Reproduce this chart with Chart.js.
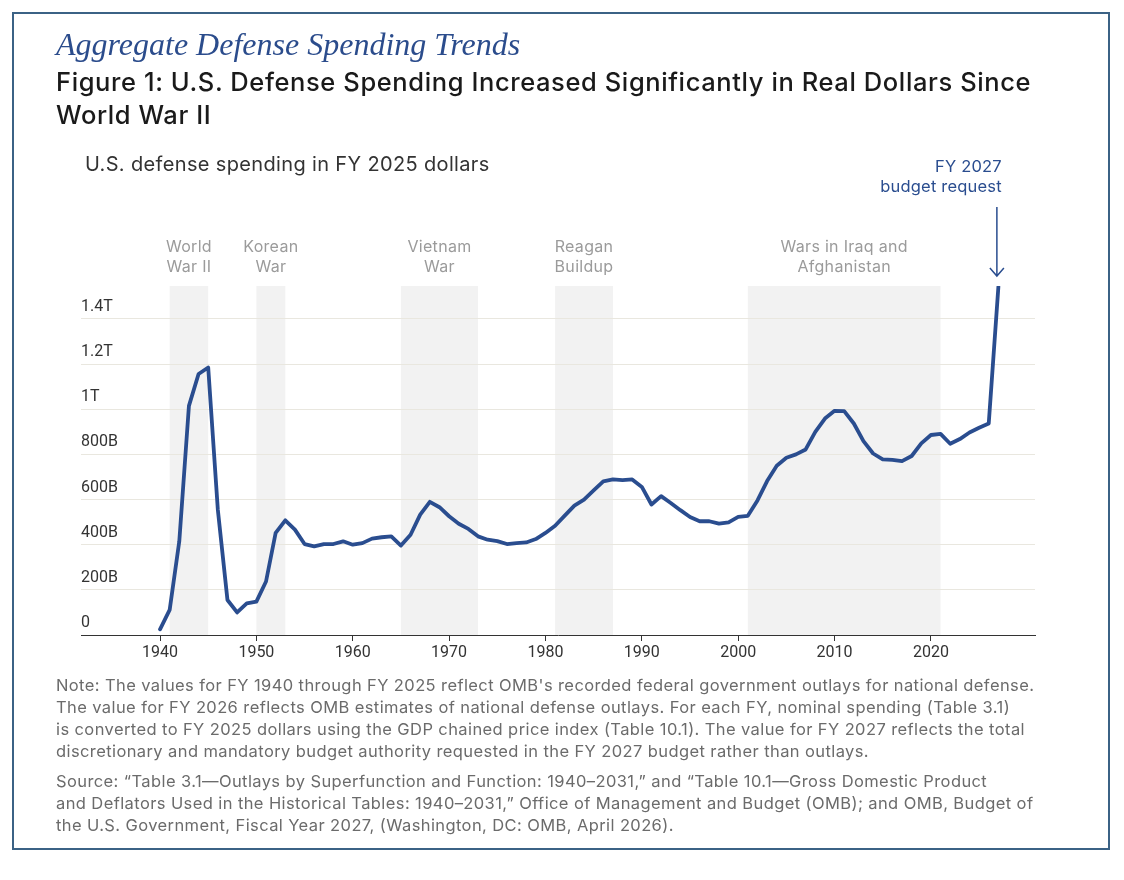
<!DOCTYPE html>
<html>
<head>
<meta charset="utf-8">
<script src="https://cdn.jsdelivr.net/npm/chart.js@4.4.1/dist/chart.umd.min.js"></script>
<style>
  html, body { margin:0; padding:0; background:#fff; }
  body { width:1124px; height:880px; position:relative; overflow:hidden; }
  .frame { position:absolute; left:12px; top:12px; width:1098px; height:838px; border:2px solid #3b6285; box-sizing:border-box; }
  .t { position:absolute; white-space:nowrap; margin:0; }
  #kicker { left:56px; top:29px; font:italic 32px/30px "Liberation Serif", serif; color:#2b4c8c; }
  #title { left:56px; top:65px; font:500 25.5px/33px Inter, sans-serif; letter-spacing:0.6px; color:#1a1a1a; }
  #subtitle { left:85px; top:153.5px; font:400 20px/20px Inter, sans-serif; letter-spacing:0.35px; color:#333; }
  #note, #source { left:56px; font:400 16.5px/22px Inter, sans-serif; letter-spacing:0.4px; color:#6b6b6b; }
  #note { top:673.5px; }
  #source { top:769.5px; }
  #wrap { position:absolute; left:0; top:0; width:1124px; height:880px; }
</style>
</head>
<body>
<div class="frame"></div>
<div id="wrap"><canvas id="c"></canvas></div>
<div class="t" id="kicker">Aggregate Defense Spending Trends</div>
<div class="t" id="title">Figure 1: U.S. Defense Spending Increased Significantly in Real Dollars Since<br>World War II</div>
<div class="t" id="subtitle">U.S. defense spending in FY 2025 dollars</div>
<div class="t" id="note">Note: The values for FY 1940 through FY 2025 reflect OMB's recorded federal government outlays for national defense.<br>The value for FY 2026 reflects OMB estimates of national defense outlays. For each FY, nominal spending (Table 3.1)<br>is converted to FY 2025 dollars using the GDP chained price index (Table 10.1). The value for FY 2027 reflects the total<br>discretionary and mandatory budget authority requested in the FY 2027 budget rather than outlays.</div>
<div class="t" id="source">Source: “Table 3.1—Outlays by Superfunction and Function: 1940–2031,” and “Table 10.1—Gross Domestic Product<br>and Deflators Used in the Historical Tables: 1940–2031,” Office of Management and Budget (OMB); and OMB, Budget of<br>the U.S. Government, Fiscal Year 2027, (Washington, DC: OMB, April 2026).</div>
<script>
// ---- data (billions of FY 2025 dollars) ----
const years = [];
for (let y = 1940; y <= 2027; y++) years.push(y);
const spending = [
  25, 111, 415, 1015, 1156, 1185, 555, 155, 100, 140,      // 1940-1949
  148, 237, 452, 508, 467, 403, 393, 403, 403, 415,        // 1950-1959
  400, 407, 427, 433, 437, 396, 444, 533, 590, 566,        // 1960-1969
  526, 493, 470, 437, 422, 416, 403, 407, 410, 425,        // 1970-1979
  452, 484, 529, 573, 600, 641, 681, 689, 686, 689,        // 1980-1989
  656, 578, 615, 585, 553, 523, 504, 504, 493, 499,        // 1990-1999
  523, 528, 596, 682, 750, 785, 800, 822, 900, 959,        // 2000-2009
  993, 992, 937, 859, 804, 778, 776, 770, 793, 849,        // 2010-2019
  886, 891, 847, 868, 897, 918, 937, 1542                  // 2020-2027
];
const xTickYears = [1940, 1950, 1960, 1970, 1980, 1990, 2000, 2010, 2020];
const yTickValues = [0, 200, 400, 600, 800, 1000, 1200, 1400];
const yTickLabels = ['0', '200B', '400B', '600B', '800B', '1T', '1.2T', '1.4T'];
const bandStarts = [1941, 1950, 1965, 1981, 2001];
const bandEnds   = [1945, 1953, 1973, 1987, 2021];
const bandLabels = [['World', 'War II'], ['Korean', 'War'], ['Vietnam', 'War'], ['Reagan', 'Buildup'], ['Wars in Iraq and', 'Afghanistan']];
const annotationYear = 2027;
const annotationLines = ['FY 2027', 'budget request'];

const LINE = '#2a4d8f';

const bandsPlugin = {
  id: 'bands',
  beforeDraw(chart) {
    const {ctx, chartArea: a, scales: {x}} = chart;
    ctx.save();
    ctx.fillStyle = '#f2f2f2';
    for (let i = 0; i < bandStarts.length; i++) {
      const x0 = x.getPixelForValue(bandStarts[i]);
      const x1 = x.getPixelForValue(bandEnds[i]);
      ctx.fillRect(x0, a.top, x1 - x0, a.bottom - a.top);
    }
    ctx.restore();
  },
  afterDraw(chart) {
    const {ctx, chartArea: a, scales: {x}} = chart;
    ctx.save();
    ctx.font = '400 16px Inter, sans-serif';
    ctx.letterSpacing = '0.3px';
    ctx.fillStyle = '#9b9b9b';
    ctx.textAlign = 'center';
    ctx.textBaseline = 'alphabetic';
    for (let i = 0; i < bandStarts.length; i++) {
      const cx = (x.getPixelForValue(bandStarts[i]) + x.getPixelForValue(bandEnds[i])) / 2;
      ctx.fillText(bandLabels[i][0], cx, a.top - 34);
      ctx.fillText(bandLabels[i][1], cx, a.top - 14);
    }
    // annotation
    const ax = x.getPixelForValue(annotationYear) - 1.5;
    ctx.fillStyle = LINE;
    ctx.font = '400 16.5px Inter, sans-serif';
    ctx.letterSpacing = '0.2px';
    ctx.textAlign = 'right';
    ctx.fillText(annotationLines[0], ax + 5, a.top - 114);
    ctx.fillText(annotationLines[1], ax + 5, a.top - 94);
    ctx.strokeStyle = LINE;
    ctx.lineWidth = 1.5;
    ctx.beginPath();
    ctx.moveTo(ax, a.top - 79);
    ctx.lineTo(ax, a.top - 10);
    ctx.moveTo(ax - 7, a.top - 18);
    ctx.lineTo(ax, a.top - 10);
    ctx.lineTo(ax + 7, a.top - 18);
    ctx.stroke();
    ctx.restore();
  }
};

new Chart(document.getElementById('c'), {
  type: 'line',
  data: {
    datasets: [{
      data: years.map((yr, i) => ({x: yr, y: spending[i]})),
      borderColor: LINE,
      borderWidth: 3.8,
      pointRadius: 0,
      tension: 0,
      borderJoinStyle: 'round',
      borderCapStyle: 'round',
      fill: false
    }]
  },
  options: {
    responsive: true,
    maintainAspectRatio: false,
    animation: false,
    layout: { padding: { left: 81, right: 89, top: 286, bottom: 215 } },
    plugins: { legend: { display: false }, tooltip: { enabled: false } },
    scales: {
      x: {
        type: 'linear',
        min: 1931.8,
        max: 2030.8,
        afterBuildTicks(s) { s.ticks = xTickYears.map(v => ({value: v})); },
        afterFit(s) { s.height = 30; },
        grid: { drawOnChartArea: false, drawTicks: true, tickLength: 6, color: '#333', lineWidth: 1 },
        border: { display: true, color: '#333', width: 1 },
        ticks: { color: '#333', font: { family: 'Roboto', size: 16 }, padding: 2, maxRotation: 0,
                 callback: v => String(v) }
      },
      y: {
        min: 0,
        max: 1546,
        afterBuildTicks(s) { s.ticks = yTickValues.map(v => ({value: v})); },
        afterFit(s) { s.width = 0; },
        grid: { drawTicks: false, color: '#e9e7df', lineWidth: 1 },
        border: { display: false },
        ticks: { mirror: true, padding: 0, labelOffset: -12, color: '#333',
                 font: { family: 'Roboto', size: 16 },
                 callback: v => yTickLabels[yTickValues.indexOf(v)] }
      }
    }
  },
  plugins: [bandsPlugin]
});
</script>
</body>
</html>
